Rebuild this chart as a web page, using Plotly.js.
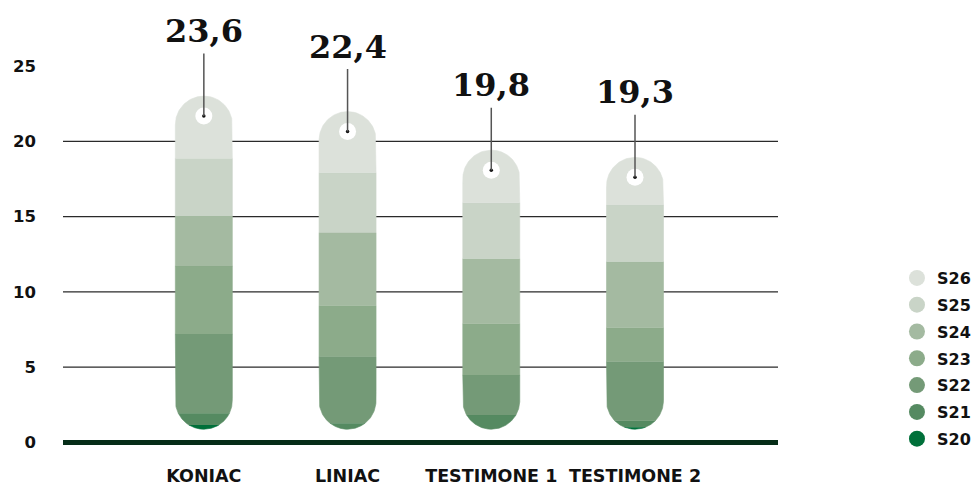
<!DOCTYPE html>
<html><head><meta charset="utf-8">
<script src="https://cdn.plot.ly/plotly-3.0.1.min.js"></script>
<style>html,body{margin:0;padding:0;background:#fff}#chart{width:973px;height:487px}</style>
</head><body><div id="chart"></div>
<script>
// ---- data ----
const categories = ['KONIAC', 'LINIAC', 'TESTIMONE 1', 'TESTIMONE 2'];
const totals = [23.6, 22.4, 19.8, 19.3];
const seriesNames = ['S20', 'S21', 'S22', 'S23', 'S24', 'S25', 'S26'];
const S20 = [0.28, 0.00, 0.00, 0.13];
const S21 = [0.78, 0.40, 0.95, 0.44];
const S22 = [5.26, 4.43, 2.65, 3.92];
const S23 = [4.52, 3.38, 3.41, 2.25];
const S24 = [3.32, 4.85, 4.31, 4.39];
const S25 = [3.83, 3.98, 3.72, 3.76];
const S26 = [4.14, 4.06, 3.50, 3.17];
const yTickValues = [0, 5, 10, 15, 20, 25];
const gridValues = [5, 10, 15, 20];

// ---- styles ----
const seriesValues = [S20, S21, S22, S23, S24, S25, S26];
const colors = ['#00703a', '#558a61', '#749a77', '#8cab8a', '#a4baa1', '#c9d4c7', '#dce1da'];
const W = 973, H = 487;
const margin = {l: 63, r: 195, t: 36, b: 40.4, autoexpand: false};
const xRange = [-0.98, 3.995];
const yRange = [-0.3, 27];
const plotW = W - margin.l - margin.r;
const plotH = H - margin.t - margin.b;
const pxX = plotW / (xRange[1] - xRange[0]);
const pxY = plotH / (yRange[1] - yRange[0]);
const barHalfPx = 28.5;
const hw = barHalfPx / pxX;      // half width in x units
const ry = barHalfPx / pxY;      // cap radius in y units
const baseOffset = 0.88;         // pill starts slightly above the baseline
const dotOffset = 20 / pxY;

function halfWidth(y, yb, yt) {
  if (y < yb + ry) { const d = (yb + ry - y) / ry; return hw * Math.sqrt(Math.max(0, 1 - d * d)); }
  if (y > yt - ry) { const d = (y - (yt - ry)) / ry; return hw * Math.sqrt(Math.max(0, 1 - d * d)); }
  return hw;
}

const tops = categories.map((c, i) => baseOffset + seriesValues.reduce((a, s) => a + s[i], 0));

const traces = [];
seriesValues.forEach((vals, si) => {
  const xs = [], ys = [];
  categories.forEach((c, i) => {
    if (vals[i] <= 0) return;
    let y0 = baseOffset;
    for (let k = 0; k < si; k++) y0 += seriesValues[k][i];
    const y1 = y0 + vals[i];
    const yb = baseOffset, yt = tops[i];
    const N = 80;
    const samples = [];
    for (let n = 0; n <= N; n++) samples.push(y0 + (y1 - y0) * n / N);
    samples.forEach(y => { xs.push(i + halfWidth(y, yb, yt)); ys.push(y); });
    samples.slice().reverse().forEach(y => { xs.push(i - halfWidth(y, yb, yt)); ys.push(y); });
    xs.push(null); ys.push(null);
  });
  traces.push({
    type: 'scatter', mode: 'lines', x: xs, y: ys, fill: 'toself',
    fillcolor: colors[si], line: {color: colors[si], width: 0.6},
    hoverinfo: 'skip', showlegend: false
  });
});

// white dot near the top of each pill
traces.push({
  type: 'scatter', mode: 'markers',
  x: categories.map((c, i) => i), y: tops.map(t => t - dotOffset),
  marker: {size: 17, color: '#ffffff'}, hoverinfo: 'skip', showlegend: false
});
traces.push({
  type: 'scatter', mode: 'markers',
  x: categories.map((c, i) => i), y: tops.map(t => t - dotOffset),
  marker: {size: 3.5, color: '#111111'}, hoverinfo: 'skip', showlegend: false
});

// legend entries (S26 on top)
for (let si = seriesNames.length - 1; si >= 0; si--) {
  traces.push({
    type: 'scatter', mode: 'markers', x: [null], y: [null],
    name: seriesNames[si], legendgroup: seriesNames[si],
    marker: {size: 16, color: colors[si], symbol: 'circle'}
  });
}

const shapes = gridValues.map(g => ({
  type: 'line', xref: 'paper', x0: 0, x1: 1, yref: 'y', y0: g, y1: g,
  line: {color: '#2a2a2a', width: 1.2}, layer: 'below'
}));
shapes.push({
  type: 'line', xref: 'paper', x0: 0, x1: 1, yref: 'y', y0: 0, y1: 0,
  line: {color: '#062d18', width: 5}, layer: 'below'
});

const annotations = categories.map((c, i) => ({
  x: i, y: tops[i] - dotOffset, xref: 'x', yref: 'y',
  text: totals[i].toFixed(1).replace('.', ','),
  showarrow: true, arrowhead: 0, arrowwidth: 1.5, arrowcolor: '#555555',
  ax: 0, ay: -85, borderpad: 3,
  font: {family: 'DejaVu Serif', size: 32, weight: 'bold', color: '#111111'}
}));

const layout = {
  width: W, height: H, margin: margin, autosize: false,
  paper_bgcolor: '#ffffff', plot_bgcolor: '#ffffff',
  showlegend: true,
  legend: {
    x: 1.1664, xanchor: 'left', y: 0.4526, yanchor: 'top',
    font: {family: 'DejaVu Sans', size: 16, weight: 'bold', color: '#111111'},
    tracegroupgap: 3, bgcolor: 'rgba(0,0,0,0)'
  },
  xaxis: {
    range: xRange, tickvals: categories.map((c, i) => i), ticktext: categories,
    showgrid: false, zeroline: false, showline: false, ticks: '',
    tickangle: 0, ticklabelstandoff: 16,
    tickfont: {family: 'DejaVu Sans', size: 17.5, weight: 'bold', color: '#111111'},
    fixedrange: true
  },
  yaxis: {
    range: yRange, tickvals: yTickValues, ticktext: yTickValues.map(String),
    showgrid: false, zeroline: false, showline: false, ticks: '',
    ticklabelstandoff: 26,
    tickfont: {family: 'DejaVu Sans', size: 16.5, weight: 'bold', color: '#111111'},
    fixedrange: true
  },
  shapes: shapes,
  annotations: annotations
};

Plotly.newPlot('chart', traces, layout, {displayModeBar: false, staticPlot: true});
</script>
</body></html>
